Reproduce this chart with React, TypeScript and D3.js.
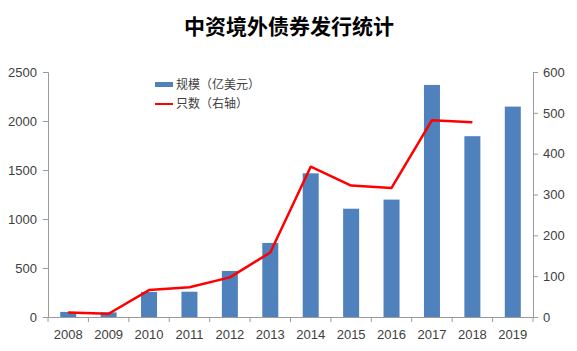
import React, { useEffect, useRef } from 'react';
import * as d3 from 'd3';

const years = ['2008', '2009', '2010', '2011', '2012', '2013', '2014', '2015', '2016', '2017', '2018', '2019'];
// 规模（亿美元）
const scale = [52, 47, 255, 258, 470, 756, 1466, 1105, 1198, 2368, 1845, 2147];
// 只数（右轴）— no value for 2019
const counts = [11, 8, 66, 73, 97, 158, 368, 322, 316, 482, 477, null];
const leftTicks = [0, 500, 1000, 1500, 2000, 2500];
const rightTicks = [0, 100, 200, 300, 400, 500, 600];

const W = 577, H = 351;
const margin = { top: 72, right: 44, bottom: 34, left: 48 };
const labelFont = '"Liberation Sans", Arial, sans-serif';
const cjkFont = '"Noto Sans CJK SC", sans-serif';

const App = () => {
    const ref = useRef<SVGSVGElement>(null);

    useEffect(() => {
        const svg = d3.select(ref.current);
        svg.selectAll('*').remove();

        const width = W - margin.left - margin.right;
        const height = H - margin.top - margin.bottom;

        // title
        svg.append('text')
            .attr('x', 289).attr('y', 34)
            .attr('text-anchor', 'middle')
            .attr('font-family', cjkFont)
            .attr('font-weight', 'bold')
            .attr('font-size', 21)
            .attr('fill', '#000')
            .text('中资境外债券发行统计');

        const g = svg.append('g')
            .attr('transform', 'translate(' + margin.left + ',' + margin.top + ')');

        const band = d3.scaleBand().domain(years).range([0, width]);
        const y = d3.scaleLinear().domain([0, 2500]).range([height, 0]);
        const y2 = d3.scaleLinear().domain([0, 600]).range([height, 0]);

        // bars
        g.selectAll('rect.bar')
            .data(scale)
            .enter()
            .append('rect')
            .attr('class', 'bar')
            .attr('x', (d, i) => band(years[i])! + band.bandwidth() / 2 - 8)
            .attr('y', d => y(d))
            .attr('width', 16)
            .attr('height', d => height - y(d))
            .attr('fill', '#4F81BD');

        // line
        const line = d3.line<number | null>()
            .defined(d => d != null)
            .x((d, i) => band(years[i])! + band.bandwidth() / 2)
            .y(d => y2(d as number));
        g.append('path')
            .datum(counts)
            .attr('d', line)
            .attr('fill', 'none')
            .attr('stroke', '#FF0000')
            .attr('stroke-width', 2.5)
            .attr('stroke-linejoin', 'round');

        const axisColor = '#9a9a9a';
        const textColor = '#404040';
        const fmt = d3.format('d');

        // left axis
        const la = g.append('g')
            .call(d3.axisLeft(y).tickValues(leftTicks).tickFormat(fmt).tickSize(5).tickPadding(6));
        la.selectAll('path,line').attr('stroke', axisColor);
        la.selectAll('text').attr('font-family', labelFont).attr('font-size', 13).attr('fill', textColor);

        // right axis
        const ra = g.append('g')
            .attr('transform', 'translate(' + width + ',0)')
            .call(d3.axisRight(y2).tickValues(rightTicks).tickFormat(fmt).tickSize(5).tickPadding(5));
        ra.selectAll('path,line').attr('stroke', axisColor);
        ra.selectAll('text').attr('font-family', labelFont).attr('font-size', 13).attr('fill', textColor);

        // bottom axis
        const ba = g.append('g')
            .attr('transform', 'translate(0,' + height + ')')
            .call(d3.axisBottom(band).tickSize(0).tickPadding(13));
        ba.select('.domain').attr('stroke', axisColor);
        ba.selectAll('text').attr('font-family', labelFont).attr('font-size', 13).attr('fill', textColor);
        ba.selectAll('line.sep')
            .data(d3.range(years.length + 1))
            .enter()
            .append('line')
            .attr('class', 'sep')
            .attr('x1', i => i * band.step()).attr('x2', i => i * band.step())
            .attr('y1', 0).attr('y2', 5)
            .attr('stroke', axisColor);

        // legend
        const lg = svg.append('g').attr('transform', 'translate(155,0)');
        lg.append('rect').attr('x', 0).attr('y', 82).attr('width', 18).attr('height', 5).attr('fill', '#4F81BD');
        lg.append('text').attr('x', 21).attr('y', 89).attr('font-family', cjkFont).attr('font-size', 12)
            .attr('fill', textColor).text('规模（亿美元）');
        lg.append('line').attr('x1', 0).attr('x2', 18).attr('y1', 104).attr('y2', 104)
            .attr('stroke', '#FF0000').attr('stroke-width', 2);
        lg.append('text').attr('x', 21).attr('y', 108).attr('font-family', cjkFont).attr('font-size', 12)
            .attr('fill', textColor).text('只数（右轴）');
    }, []);

    return (
        <svg ref={ref} width={W} height={H}
            style={{ position: 'absolute', left: 0, top: 0, background: '#fff' }} />
    );
};

export default App;
